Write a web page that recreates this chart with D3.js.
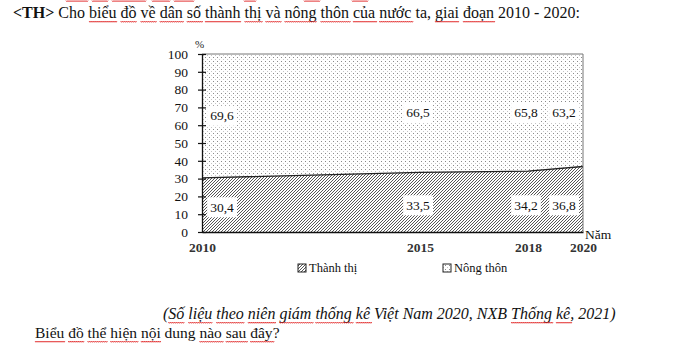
<!DOCTYPE html>
<html>
<head>
<meta charset="utf-8">
<script src="https://cdn.jsdelivr.net/npm/d3@7"></script>
<style>
  html, body { margin: 0; padding: 0; background: #fff; }
  svg text { font-family: "Liberation Serif", "Times New Roman", Times, "DejaVu Serif", serif; }
</style>
</head>
<body>
<svg id="chart" width="687" height="348"></svg>
<script>
// Tỉ lệ dân số thành thị và nông thôn (%)
const years = [2010, 2015, 2018, 2020];
const urban = [30.4, 33.5, 34.2, 36.8];
const rural = [69.6, 66.5, 65.8, 63.2];
const yTicks = [0, 10, 20, 30, 40, 50, 60, 70, 80, 90, 100];
const seriesNames = ["Thành thị", "Nông thôn"];

const SERIF = '"Liberation Serif", "Times New Roman", Times, "DejaVu Serif", serif';
const svg = d3.select("#chart");

// Year positions follow the uneven spacing of the category axis
const x = d3.scaleLinear().domain(years).range([202, 420, 528, 583]);
const y = d3.scaleLinear().domain([0, 100]).range([232, 54]);

const defs = svg.append("defs");
const hatch = defs.append("pattern").attr("id", "hatch")
  .attr("patternUnits", "userSpaceOnUse").attr("width", 3).attr("height", 3);
hatch.append("rect").attr("width", 3).attr("height", 3).attr("fill", "#fff");
hatch.append("path").attr("d", "M-1,1 l2,-2 M0,3 l3,-3 M2,4 l2,-2")
  .attr("stroke", "#444").attr("stroke-width", 0.9);

const dots = defs.append("pattern").attr("id", "dots")
  .attr("patternUnits", "userSpaceOnUse").attr("width", 4).attr("height", 4);
dots.append("rect").attr("width", 4).attr("height", 4).attr("fill", "#fff");
dots.append("rect").attr("x", 1).attr("y", 1).attr("width", 1).attr("height", 1).attr("fill", "#8a8a8a");
dots.append("rect").attr("x", 3).attr("y", 3).attr("width", 1).attr("height", 1).attr("fill", "#c5c5c5");

const rows = years.map((yr, i) => ({ year: yr, urban: urban[i], rural: rural[i] }));

// Stacked areas: urban from 0, rural on top up to 100
const areaUrban = d3.area().x(d => x(d.year)).y0(y(0)).y1(d => y(d.urban));
const areaRural = d3.area().x(d => x(d.year)).y0(d => y(d.urban)).y1(d => y(d.urban + d.rural));

svg.append("path").datum(rows).attr("d", areaRural).attr("fill", "url(#dots)");
svg.append("path").datum(rows).attr("d", areaUrban).attr("fill", "url(#hatch)");
svg.append("path").datum(rows)
  .attr("d", d3.line().x(d => x(d.year)).y(d => y(d.urban)))
  .attr("fill", "none").attr("stroke", "#222").attr("stroke-width", 1.3);

// Frame top and right
svg.append("line").attr("x1", x(2010)).attr("x2", x(2020)).attr("y1", y(100)).attr("y2", y(100))
  .attr("stroke", "#777").attr("stroke-width", 1);
svg.append("line").attr("x1", x(2020)).attr("x2", x(2020)).attr("y1", y(100)).attr("y2", y(0))
  .attr("stroke", "#777").attr("stroke-width", 1);

// Y axis
const yAxis = d3.axisLeft(y).tickValues(yTicks).tickSize(0).tickPadding(14);
const gy = svg.append("g").attr("transform", `translate(${x(2010)},0)`).call(yAxis);
gy.attr("font-family", SERIF);
gy.select(".domain").attr("stroke", "#111").attr("stroke-width", 1.3);
gy.selectAll(".tick text").attr("font-size", 13.5).attr("fill", "#111");
gy.selectAll(".tick").append("line").attr("x1", -4).attr("x2", 4).attr("stroke", "#111").attr("stroke-width", 1.2);
svg.append("text").attr("x", 195).attr("y", 48).attr("font-size", 11).attr("fill", "#222").text("%");

// X axis
const xAxis = d3.axisBottom(x).tickValues(years).tickFormat(d3.format("d")).tickSize(0).tickPadding(10);
const gx = svg.append("g").attr("transform", `translate(0,${y(0)})`).call(xAxis);
gx.attr("font-family", SERIF);
gx.select(".domain").attr("stroke", "#111").attr("stroke-width", 1.6);
gx.selectAll(".tick text").attr("font-size", 13.5).attr("font-weight", "bold").attr("fill", "#333");
svg.append("text").attr("x", 585).attr("y", 239).attr("font-size", 13.5).attr("fill", "#111").text("Năm");

// Value labels in white boxes
const fmt = v => d3.format(".1f")(v).replace(".", ",");
function labelX(i) { return i === 0 ? x(years[i]) + 20 : i === years.length - 1 ? x(years[i]) - 19 : x(years[i]) - 2; }
function addLabel(cx, cy, txt) {
  const g = svg.append("g");
  const t = g.append("text").attr("x", cx).attr("y", cy + 4.5).attr("text-anchor", "middle")
    .attr("font-size", 13.5).attr("fill", "#111").text(txt);
  const b = t.node().getBBox();
  g.insert("rect", "text").attr("x", b.x - 3).attr("y", cy - 10).attr("width", b.width + 6).attr("height", 20).attr("fill", "#fff");
}
rows.forEach((d, i) => {
  addLabel(labelX(i), y(67) + (i === 0 ? 3 : 0), fmt(d.rural));
  addLabel(labelX(i), y(15) + (i === 0 ? 2 : 0), fmt(d.urban));
});

// Legend
const legend = [{ name: seriesNames[0], fill: "url(#hatch)", x: 298 }, { name: seriesNames[1], fill: "url(#dots)", x: 443 }];
legend.forEach(l => {
  svg.append("rect").attr("x", l.x).attr("y", 264).attr("width", 8).attr("height", 8)
    .attr("fill", l.fill).attr("stroke", "#222").attr("stroke-width", 1);
  svg.append("text").attr("x", l.x + 11).attr("y", 272).attr("font-size", 12.5).attr("fill", "#111").text(l.name);
});

// Text lines with red wavy proofing marks under flagged words
function wavy(x0, x1, yy) {
  let d = `M${x0},${yy}`;
  for (let xx = x0; xx < x1; xx += 2) d += ` L${xx + 1},${yy + 1.3} L${xx + 2},${yy}`;
  svg.append("path").attr("d", d).attr("fill", "none").attr("stroke", "#e02020").attr("stroke-width", 0.8);
}
function textLine(xx, yy, parts, attrs) {
  const t = svg.append("text").attr("x", xx).attr("y", yy).attr("fill", "#111");
  Object.entries(attrs).forEach(([k, v]) => t.attr(k, v));
  parts.forEach(p => {
    const s = t.append("tspan").text(p.s);
    if (p.bold) s.attr("font-weight", "bold");
  });
  const node = t.node();
  let idx = 0;
  parts.forEach(p => {
    if (p.wave) {
      // one mark per word
      let pos = 0;
      p.s.split(" ").forEach(w => {
        if (w.length) {
          const x0 = node.getStartPositionOfChar(idx + pos).x;
          const end = node.getEndPositionOfChar(idx + pos + w.length - 1).x;
          wavy(x0, end, yy + 3);
        }
        pos += w.length + 1;
      });
    }
    idx += p.s.length;
  });
}

textLine(13, 18, [
  { s: "<TH>", bold: true },
  { s: " Cho " },
  { s: "biểu đồ về dân số thành thị và nông thôn của nước", wave: true },
  { s: " ta, " },
  { s: "giai đoạn", wave: true },
  { s: " 2010 - 2020:" }
], { "font-size": 16 });

textLine(163, 319, [
  { s: "(" },
  { s: "Số liệu theo niên giám thống kê", wave: true },
  { s: " Việt Nam 2020, NXB " },
  { s: "Thống kê", wave: true },
  { s: ", 2021)" }
], { "font-size": 16, "font-style": "italic" });

textLine(35, 338, [
  { s: "Biểu đồ thể hiện nội", wave: true },
  { s: " dung " },
  { s: "nào sau đây", wave: true },
  { s: "?" }
], { "font-size": 15.5 });

// Proofing marks from the line above, clipped at the top edge
[[66, 88], [92, 108], [112, 145], [152, 170], [174, 194], [244, 255], [304, 319], [352, 368]]
  .forEach(([a, b]) => wavy(a, b, 0.5));
</script>
</body>
</html>
